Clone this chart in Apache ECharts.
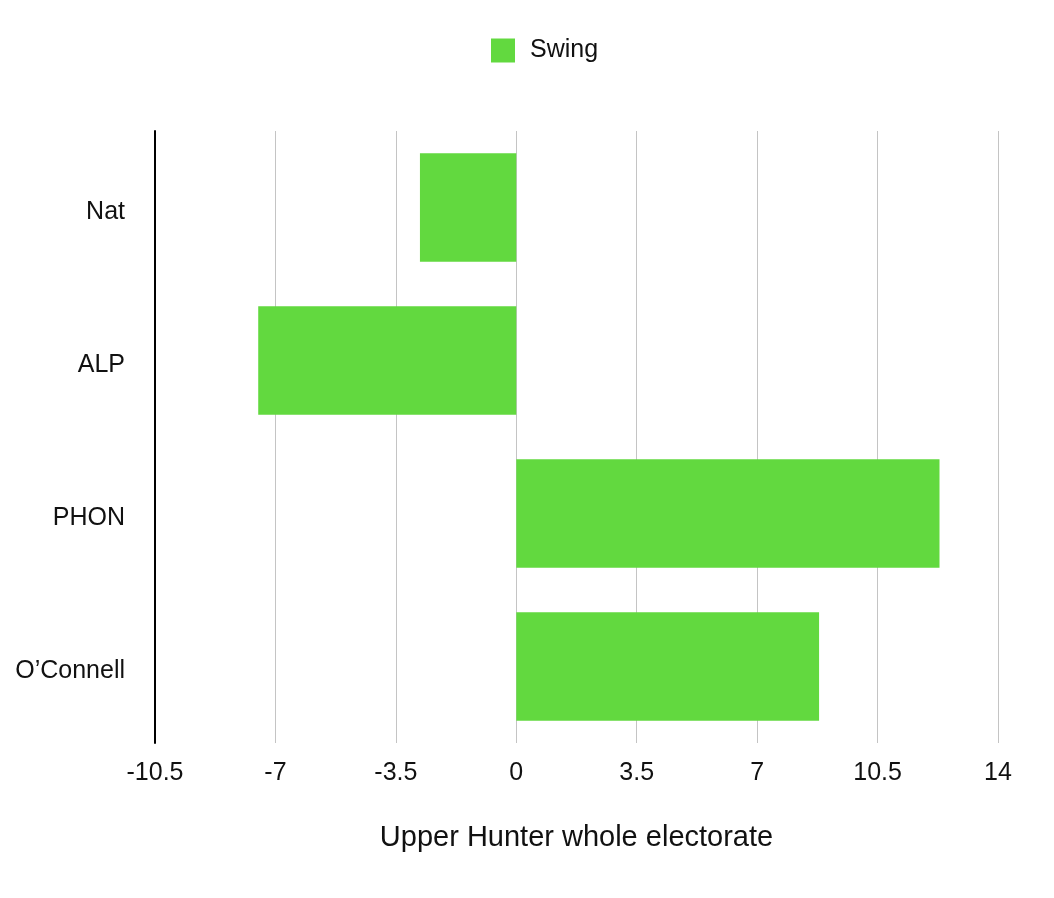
<!DOCTYPE html>
<html><head><meta charset="utf-8">
<script src="https://cdn.jsdelivr.net/npm/echarts@6/dist/echarts.min.js"></script>
<style>html,body{margin:0;padding:0;background:#fff}#c{width:1054px;height:898px}</style>
</head><body><div id="c"></div>
<script>
const categories = ["Nat", "ALP", "PHON", "O\u2019Connell"];
const swing = [-2.8, -7.5, 12.3, 8.8];
const seriesName = "Swing";
const axisTitle = "Upper Hunter whole electorate";

const chart = echarts.init(document.getElementById('c'));
chart.setOption({
  animation: false,
  textStyle: { fontFamily: 'Liberation Sans, Arial, sans-serif' },
  legend: {
    top: 33, left: 486,
    itemWidth: 24, itemHeight: 24, itemGap: 10,
    icon: 'rect',
    textStyle: { fontSize: 25, color: '#111', padding: [0, 0, 0, 10], fontFamily: 'Liberation Sans, Arial, sans-serif' },
    data: [seriesName]
  },
  grid: { left: 155, right: 56, top: 131, bottom: 155, containLabel: false },
  xAxis: {
    type: 'value', min: -10.5, max: 14, interval: 3.5,
    axisLine: { show: false }, axisTick: { show: false },
    splitLine: { show: true, lineStyle: { color: '#c4c4c4', width: 1 } },
    axisLabel: { fontSize: 25, color: '#111', margin: 18 },
    name: axisTitle, nameLocation: 'middle', nameGap: 80,
    nameTextStyle: { fontSize: 29, color: '#111' }
  },
  yAxis: {
    type: 'category', data: categories, inverse: true,
    axisLine: { show: true, onZero: false, lineStyle: { color: '#000', width: 2 } },
    axisTick: { show: false },
    axisLabel: {
      fontSize: 25, color: '#111', margin: 30,
      formatter: function (v) { return '{a|' + v + '}'; },
      rich: { a: { fontSize: 25, color: '#111', padding: [9, 0, 0, 0] } }
    }
  },
  series: [{
    name: seriesName, type: 'bar', data: swing,
    barCategoryGap: '29%',
    itemStyle: { color: '#62D93F' }
  }]
});
</script></body></html>
